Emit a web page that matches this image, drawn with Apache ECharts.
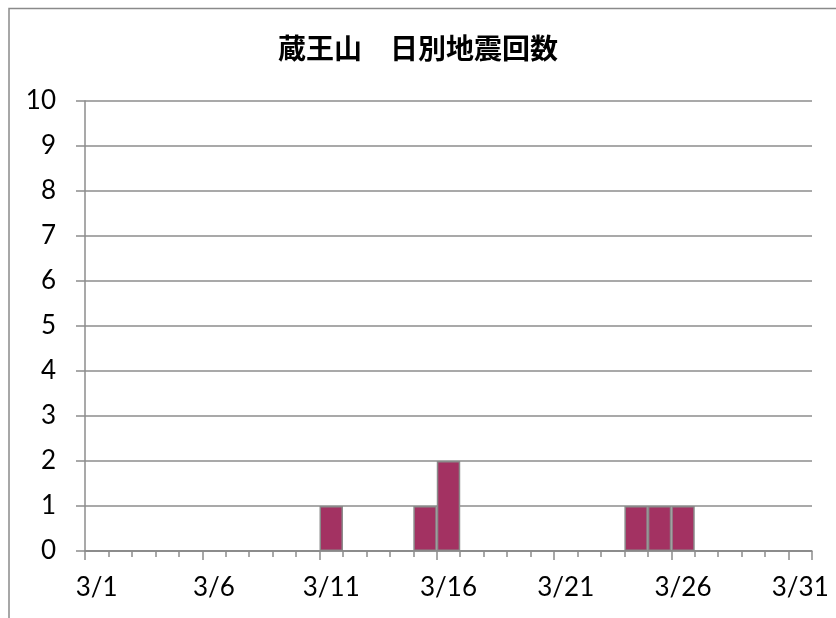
<!DOCTYPE html>
<html>
<head>
<meta charset="utf-8">
<script src="https://cdn.jsdelivr.net/npm/echarts@6/dist/echarts.min.js"></script>
<style>
  html, body { margin: 0; padding: 0; background: #fff; }
  #chart { width: 836px; height: 618px; }
</style>
</head>
<body>
<div id="chart"></div>
<script>
// Daily earthquake counts at Zao, March 1-31
const titleText = '蔵王山　日別地震回数';
const days = [
  '3/1','3/2','3/3','3/4','3/5','3/6','3/7','3/8','3/9','3/10',
  '3/11','3/12','3/13','3/14','3/15','3/16','3/17','3/18','3/19','3/20',
  '3/21','3/22','3/23','3/24','3/25','3/26','3/27','3/28','3/29','3/30','3/31'
];
const counts = [
  0,0,0,0,0,0,0,0,0,0,
  1,0,0,0,1,2,0,0,0,0,
  0,0,0,1,1,1,0,0,0,0,0
];
const yMin = 0, yMax = 10, yStep = 1;

const axisGray = '#8c8c8c';
const labelFont = 'Lato, "Open Sans", sans-serif';

const chart = echarts.init(document.getElementById('chart'), null, { renderer: 'canvas' });
chart.setOption({
  animation: false,
  backgroundColor: '#ffffff',
  title: {
    text: titleText,
    left: 'center',
    top: 29,
    textStyle: {
      fontFamily: '"Noto Sans CJK JP", sans-serif',
      fontWeight: 'bold',
      fontSize: 28,
      color: '#000'
    }
  },
  graphic: [{
    type: 'polyline',
    shape: { points: [[9, 618], [9, 8.5], [836, 8.5]] },
    style: { stroke: '#8a8a8a', lineWidth: 1.5, fill: null },
    silent: true
  }],
  grid: { left: 85, right: 24, top: 101, bottom: 67 },
  xAxis: [{
    type: 'category',
    data: days,
    boundaryGap: true,
    axisLine: { show: true, lineStyle: { color: axisGray, width: 1.5 } },
    axisTick: { show: true, interval: 0, length: 6, lineStyle: { color: axisGray, width: 1.5 } },
    axisLabel: {
      interval: 4,
      margin: 24,
      fontFamily: labelFont,
      fontSize: 26,
      color: '#000'
    },
    splitLine: { show: false }
  }, {
    type: 'category',
    data: days,
    position: 'bottom',
    boundaryGap: true,
    axisLine: { show: false },
    axisTick: { show: true, interval: 4, length: 9, lineStyle: { color: axisGray, width: 1.5 } },
    axisLabel: { show: false },
    splitLine: { show: false }
  }],
  yAxis: {
    type: 'value',
    min: yMin,
    max: yMax,
    interval: yStep,
    axisLine: { show: true, lineStyle: { color: axisGray, width: 1.5 } },
    axisTick: { show: true, length: 9, lineStyle: { color: axisGray, width: 1.5 } },
    axisLabel: {
      margin: 29,
      fontFamily: labelFont,
      fontSize: 26,
      color: '#000'
    },
    splitLine: { show: true, lineStyle: { color: axisGray, width: 1.5 } }
  },
  series: [{
    type: 'bar',
    data: counts,
    xAxisIndex: 0,
    barWidth: '100%',
    barGap: '0%',
    barCategoryGap: '0%',
    itemStyle: {
      color: '#a33262',
      borderColor: '#8a8a8a',
      borderWidth: 1.5
    }
  }]
});
</script>
</body>
</html>
